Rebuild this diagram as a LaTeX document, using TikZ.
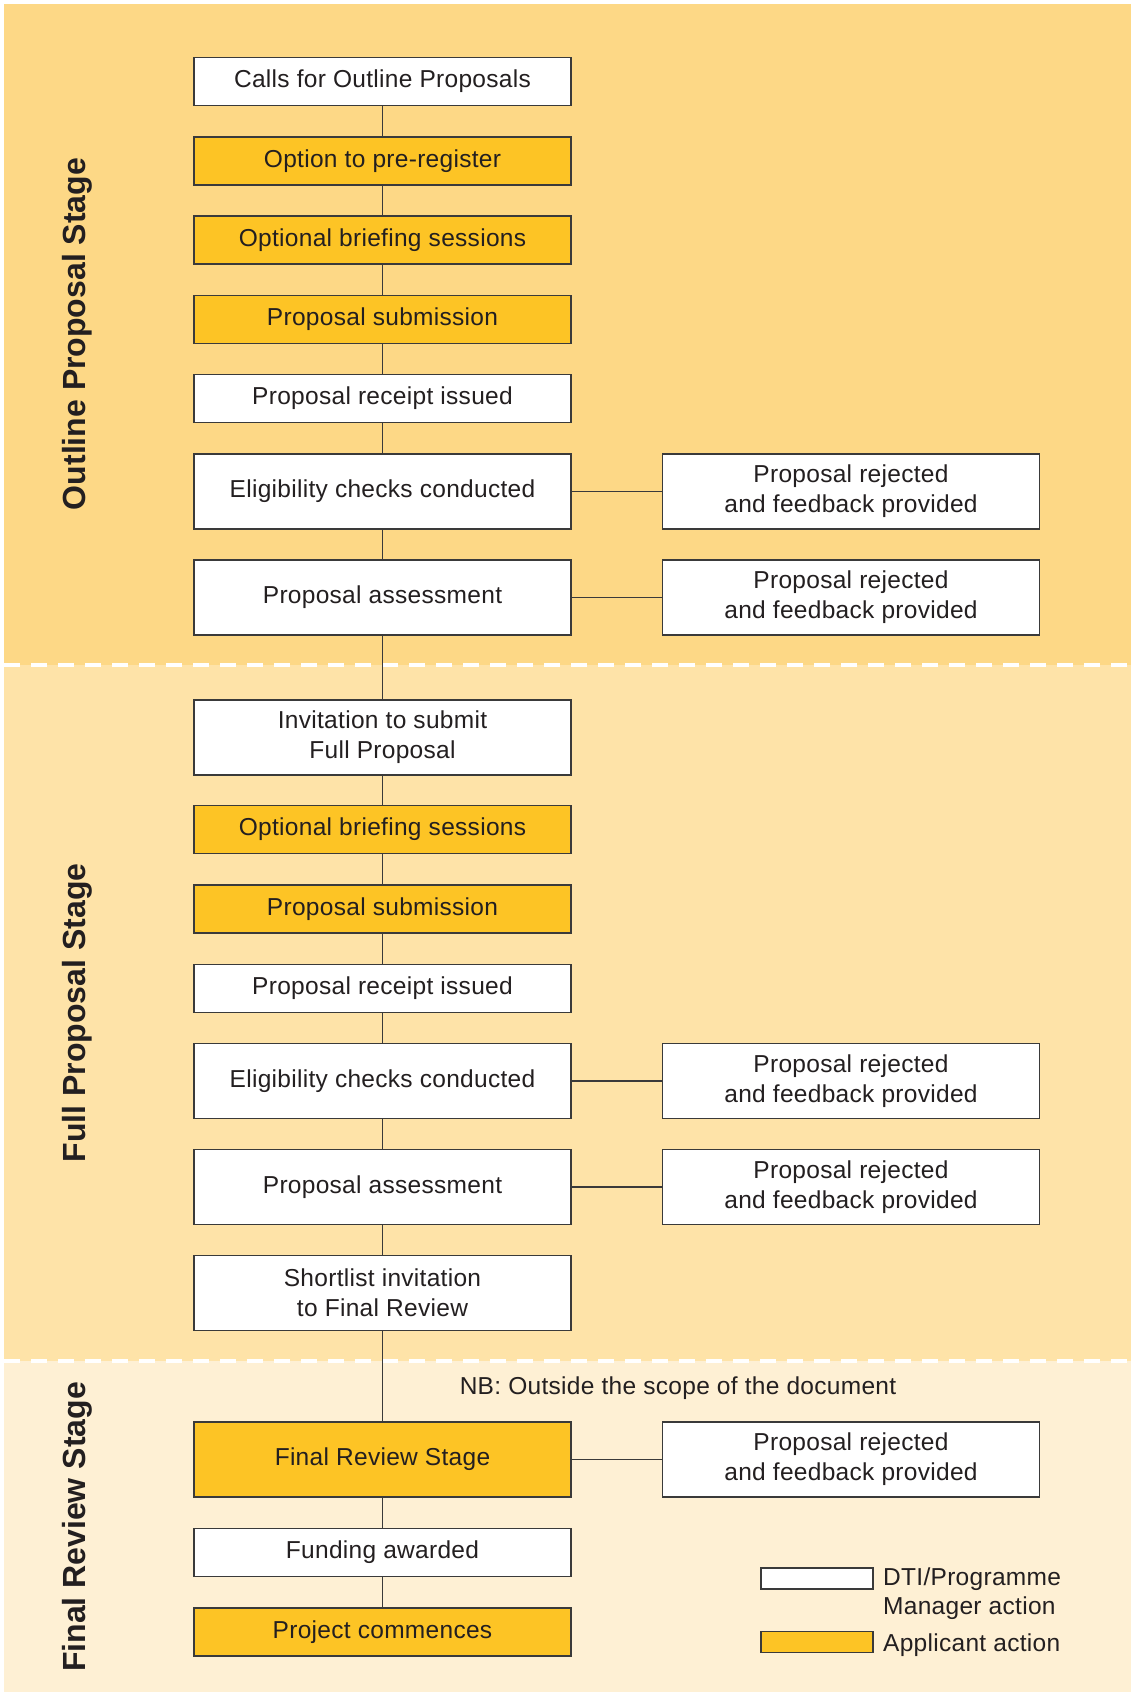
\documentclass[tikz,border=0pt]{standalone}
\usepackage{fontspec}
\setmainfont{Liberation Sans}
\newfontfamily\boxfam[LetterSpace=1.2]{Liberation Sans}
\definecolor{outlinebg}{HTML}{FDD886}
\definecolor{fullbg}{HTML}{FEE3A8}
\definecolor{finalbg}{HTML}{FEF0D4}
\definecolor{appyellow}{HTML}{FDC425}
\definecolor{boxline}{HTML}{3A3A3A}
\definecolor{txt}{HTML}{231F20}
\newcommand{\boxfont}{\boxfam\fontsize{24.5}{30}\selectfont}
\newcommand{\stagefont}{\fontsize{32}{36}\selectfont\bfseries}
\begin{document}
\begin{tikzpicture}[x=1pt,y=-1pt,
  box/.style={draw=boxline, line width=1.3pt, minimum width=377pt, inner sep=0pt, align=center, font=\boxfont, text=txt},
  dti/.style={box, fill=white},
  app/.style={box, fill=appyellow},
  one/.style={minimum height=48pt},
  two/.style={minimum height=75pt},
  link/.style={draw=boxline, line width=1.2pt},
  stagelabel/.style={rotate=90, anchor=base, font=\stagefont, text=txt},
  sepline/.style={draw=white, line width=4.5pt, dash pattern=on 16pt off 11pt},
  legendbox/.style={draw=boxline, line width=1.3pt, minimum width=112pt, minimum height=21pt, inner sep=0pt},
  legendtext/.style={anchor=base west, font=\boxfont, text=txt, inner sep=0pt}]

\useasboundingbox (0,0) rectangle (1131,1692);
\fill[white] (0,0) rectangle (1131,1692);
\fill[outlinebg] (4,4) rectangle (1131,665);
\fill[fullbg] (4,665) rectangle (1131,1361);
\fill[finalbg] (4,1361) rectangle (1131,1692);

\coordinate (sepAl) at (4,665);
\coordinate (sepAr) at (1131,665);
\coordinate (sepBl) at (4,1361);
\coordinate (sepBr) at (1131,1361);
\draw[sepline] (sepAl) -- (sepAr);
\draw[sepline] (sepBl) -- (sepBr);

% stage labels
\node[stagelabel] (lOutline) at (85,334) {Outline Proposal Stage};
\node[stagelabel] (lFull) at (85,1013) {Full Proposal Stage};
\node[stagelabel] (lFinal) at (85,1527) {Final Review Stage};

% main column
\node[dti,one] (n1) at (382.5,81.5) {Calls for Outline Proposals};
\node[app,one] (n2) at (382.5,161) {Option to pre-register};
\node[app,one] (n3) at (382.5,240) {Optional briefing sessions};
\node[app,one] (n4) at (382.5,319.5) {Proposal submission};
\node[dti,one] (n5) at (382.5,398.5) {Proposal receipt issued};
\node[dti,two] (n6) at (382.5,491.5) {Eligibility checks conducted};
\node[dti,two] (n7) at (382.5,597.5) {Proposal assessment};
\node[dti,two] (n8) at (382.5,737.5) {Invitation to submit\\Full Proposal};
\node[app,one] (n9) at (382.5,829.5) {Optional briefing sessions};
\node[app,one] (n10) at (382.5,909) {Proposal submission};
\node[dti,one] (n11) at (382.5,988.5) {Proposal receipt issued};
\node[dti,two] (n12) at (382.5,1081) {Eligibility checks conducted};
\node[dti,two] (n13) at (382.5,1187) {Proposal assessment};
\node[dti,two] (n14) at (382.5,1293) {Shortlist invitation\\to Final Review};
\node[app,two] (n15) at (382.5,1459.5) {Final Review Stage};
\node[dti,one] (n16) at (382.5,1552.5) {Funding awarded};
\node[app,one] (n17) at (382.5,1632) {Project commences};

% reject boxes
\node[dti,two] (r6) at (851,491.5) {Proposal rejected\\and feedback provided};
\node[dti,two] (r7) at (851,597.5) {Proposal rejected\\and feedback provided};
\node[dti,two] (r12) at (851,1081) {Proposal rejected\\and feedback provided};
\node[dti,two] (r13) at (851,1187) {Proposal rejected\\and feedback provided};
\node[dti,two] (r15) at (851,1459.5) {Proposal rejected\\and feedback provided};

% note
\node[font=\boxfont, text=txt, inner sep=0pt] (nb) at (678,1388) {NB: Outside the scope of the document};

% connectors
\foreach \a/\b in {n1/n2,n2/n3,n3/n4,n4/n5,n5/n6,n6/n7,n7/n8,n8/n9,n9/n10,n10/n11,n11/n12,n12/n13,n13/n14,n14/n15,n15/n16,n16/n17}
  \draw[link] (\a) -- (\b);
\foreach \a/\b in {n6/r6,n7/r7,n12/r12,n13/r13,n15/r15}
  \draw[link] (\a) -- (\b);

% legend
\node[legendbox, fill=white] (legDTI) at (817,1578.5) {};
\node[legendbox, fill=appyellow] (legApp) at (817,1642) {};
\node[legendtext] (legDTItext) at (883,1585) {DTI/Programme};
\node[legendtext] (legDTItext2) at (883,1614) {Manager action};
\node[legendtext] (legApptext) at (883,1651) {Applicant action};
\end{tikzpicture}
\end{document}
